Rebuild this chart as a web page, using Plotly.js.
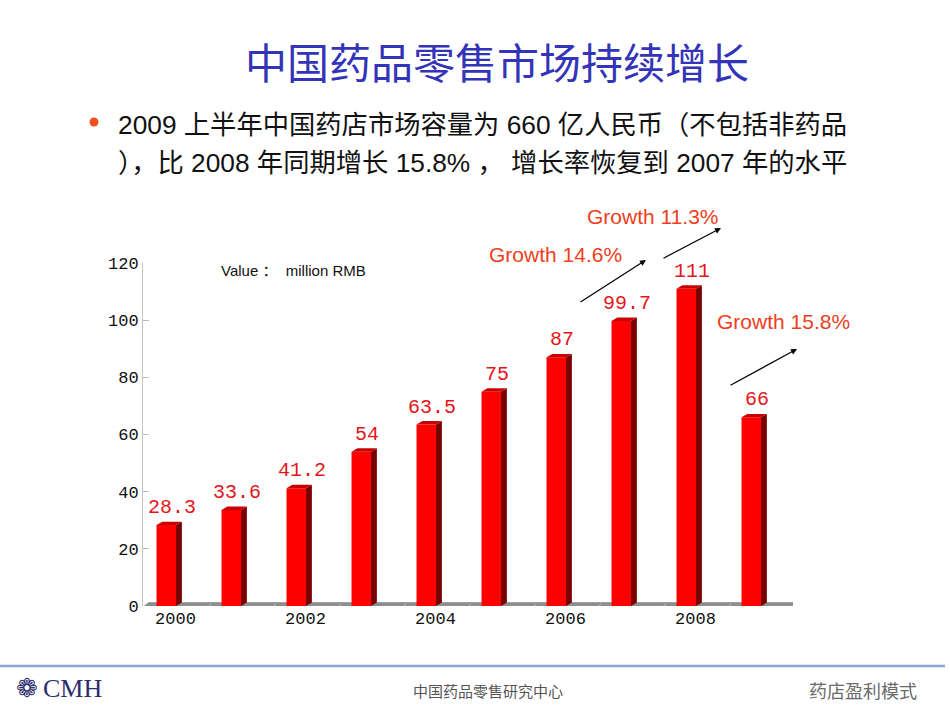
<!DOCTYPE html>
<html>
<head>
<meta charset="utf-8">
<script src="https://cdn.plot.ly/plotly-3.0.1.min.js"></script>
<style>html,body{margin:0;padding:0;background:#fff;}#chart{width:950px;height:713px;}</style>
</head>
<body>
<div id="chart"></div>
<script>
// ---- data ----
const years = [2000, 2001, 2002, 2003, 2004, 2005, 2006, 2007, 2008, 2009];
const values = [28.3, 33.6, 41.2, 54, 63.5, 75, 87, 99.7, 111, 66];
const valueLabels = ['28.3', '33.6', '41.2', '54', '63.5', '75', '87', '99.7', '111', '66'];
const tickYears = [2000, 2002, 2004, 2006, 2008];
const tickYearLabels = ['2000', '2002', '2004', '2006', '2008'];
const yTicks = [0, 20, 40, 60, 80, 100, 120];
const growthTexts = ['Growth 14.6%', 'Growth 11.3%', 'Growth 15.8%'];

const titleText = '中国药品零售市场持续增长';
const bulletLine1 = '2009 上半年中国药店市场容量为 660 亿人民币（不包括非药品';
const bulletLine2 = '），比 2008 年同期增长 15.8% ， 增长率恢复到 2007 年的水平';
const unitText = 'Value ：  million RMB';
const footerCenter = '中国药品零售研究中心';
const footerRight = '药店盈利模式';

// ---- layout geometry ----
const L = 143, R = 157, T = 263, B = 107, W = 950 - L - R, H = 713 - T - B;
const PX = px => (px - L) / W;
const PY = py => (713 - B - py) / H;

const FRONT_OFF = -0.292, FRONT_W = 0.3;
const DX = 0.09, DY = 1.2;

const shapes = [];
// floor slab
shapes.push({type: 'path', xref: 'x', yref: 'y', layer: 'below',
  path: `M 1999.5,-0.3 L 2009.5,-0.3 L ${2009.5 + DX},${DY} L ${1999.5 + DX},${DY} Z`,
  fillcolor: '#8e8e8e', line: {color: '#7a7a7a', width: 0.5}});
for (let k = 0; k <= years.length; k++) {
  const bx = 1999.5 + k;
  shapes.push({type: 'line', xref: 'x', yref: 'y', layer: 'below',
    x0: bx, x1: bx + DX * 0.5, y0: -0.3, y1: DY * 0.6, line: {color: '#c8c8c8', width: 1}});
}
// 3D sides and tops of bars
years.forEach((x, i) => {
  const v = values[i];
  const xl = x + FRONT_OFF, xr = x + FRONT_OFF + FRONT_W;
  shapes.push({type: 'path', xref: 'x', yref: 'y', layer: 'above',
    path: `M ${xr},0 L ${xr + DX},${DY} L ${xr + DX},${v + DY} L ${xr},${v} Z`,
    fillcolor: '#7a0000', line: {width: 0}});
  shapes.push({type: 'path', xref: 'x', yref: 'y', layer: 'above',
    path: `M ${xl},${v} L ${xl + DX},${v + DY} L ${xr + DX},${v + DY} L ${xr},${v} Z`,
    fillcolor: '#c80000', line: {width: 0}});
});
// bullet dot
shapes.push({type: 'circle', xref: 'paper', yref: 'paper',
  x0: PX(89.5), x1: PX(98.5), y0: PY(126.5), y1: PY(117.5),
  fillcolor: '#f0501e', line: {width: 0}});
// footer line
shapes.push({type: 'line', xref: 'paper', yref: 'paper',
  x0: PX(0), x1: PX(945), y0: PY(666), y1: PY(666),
  line: {color: '#8ca6d2', width: 2.5}});

const annotations = [];
const txt = (text, px, py, size, color, family, xanchor) => ({
  text, xref: 'paper', yref: 'paper', x: PX(px), y: PY(py), showarrow: false,
  xanchor: xanchor || 'center', yanchor: 'middle',
  font: {size, color, family}
});
const CJK = 'Liberation Sans, Arial, Noto Sans CJK SC, sans-serif';
annotations.push(txt(titleText, 497, 60, 42, '#3434b8', 'Noto Sans CJK SC, sans-serif'));
annotations.push(txt(bulletLine1, 116, 125, 26.3, '#111111', CJK, 'left'));
annotations.push(txt(bulletLine2, 116, 163, 26.3, '#111111', CJK, 'left'));
annotations.push(txt(unitText, 219, 270, 15, '#111111', CJK, 'left'));

// data labels
years.forEach((x, i) => {
  annotations.push({text: valueLabels[i], x: x, y: values[i], xref: 'x', yref: 'y',
    showarrow: false, xanchor: 'center', yanchor: 'bottom', xshift: -4, yshift: 4,
    font: {size: 20, color: '#e4161c', family: 'Liberation Mono, Courier New, monospace'}});
});

// growth annotations
const GROWTH_COLOR = '#ee4020';
annotations.push(txt(growthTexts[0], 555, 254, 21, GROWTH_COLOR, CJK));
annotations.push(txt(growthTexts[1], 653, 216, 21, GROWTH_COLOR, CJK));
annotations.push(txt(growthTexts[2], 783, 321, 21, GROWTH_COLOR, CJK));
const arrow = (hx, hy, tx, ty) => ({text: '', xref: 'paper', yref: 'paper',
  x: PX(hx), y: PY(hy), ax: tx - hx, ay: ty - hy, axref: 'pixel', ayref: 'pixel',
  showarrow: true, arrowhead: 2, arrowsize: 1, arrowwidth: 1.2, arrowcolor: '#000'});
annotations.push(arrow(646, 260, 579, 303));
annotations.push(arrow(721, 228, 662, 259));
annotations.push(arrow(797, 349, 729, 386));

// footer
annotations.push(txt('❁', 27, 688, 26, '#2d2d6e', 'DejaVu Sans, sans-serif'));
annotations.push(txt('CMH', 41, 688, 26, '#2d2d6e', 'Liberation Serif, serif', 'left'));
annotations.push(txt(footerCenter, 488, 690, 15, '#555555', 'Noto Sans CJK SC, sans-serif'));
annotations.push(txt(footerRight, 863, 690, 18, '#6a6a6a', 'Noto Sans CJK SC, sans-serif'));

const trace = {
  type: 'bar', x: years, y: values,
  width: FRONT_W, offset: FRONT_OFF,
  marker: {color: '#ff0000', line: {width: 0}},
  hoverinfo: 'skip'
};

const layout = {
  width: 950, height: 713,
  margin: {l: L, r: R, t: T, b: B, pad: 0},
  paper_bgcolor: '#ffffff', plot_bgcolor: 'rgba(0,0,0,0)',
  showlegend: false,
  xaxis: {range: [1999.5, 2009.5], tickvals: tickYears, ticktext: tickYearLabels,
    showgrid: false, zeroline: false, showline: false, ticks: '',
    tickfont: {family: 'Liberation Mono, Courier New, monospace', size: 17, color: '#111'}},
  yaxis: {range: [0, 120], tickvals: yTicks, showgrid: false, zeroline: false,
    showline: true, linecolor: '#c4c4c4', linewidth: 1,
    ticks: 'inside', ticklen: 6, tickcolor: '#bbbbbb',
    tickfont: {family: 'Liberation Mono, Courier New, monospace', size: 17, color: '#111'}},
  shapes, annotations
};

Plotly.newPlot('chart', [trace], layout, {displayModeBar: false, staticPlot: true});
</script>
</body>
</html>
